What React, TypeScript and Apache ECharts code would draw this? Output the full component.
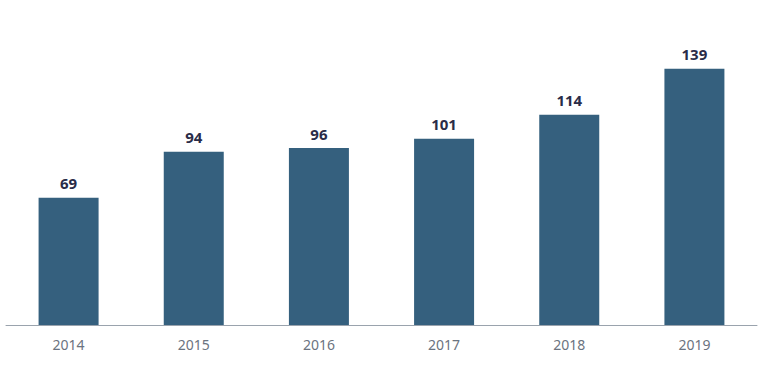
import React, { useEffect, useRef } from "react";
import * as echarts from "echarts";

const categories = ["2014", "2015", "2016", "2017", "2018", "2019"];
const values = [69, 94, 96, 101, 114, 139];

export default function App() {
  const ref = useRef<HTMLDivElement>(null);
  useEffect(() => {
    if (!ref.current) return;
    const chart = echarts.init(ref.current, null, { renderer: "svg" });
    chart.setOption({
      animation: false,
      grid: { left: 6, right: 11, top: 30, bottom: 50, containLabel: false },
      xAxis: {
        type: "category",
        data: categories,
        axisLine: { show: true, lineStyle: { color: "#9aa3ad", width: 1 } },
        axisTick: { show: false },
        axisLabel: { color: "#6b7380", fontSize: 14, fontFamily: "Noto Sans", margin: 12 },
      },
      yAxis: {
        type: "value",
        min: 0,
        max: 160,
        show: false,
        splitLine: { show: false },
      },
      series: [
        {
          type: "bar",
          data: values,
          barWidth: 60,
          itemStyle: { color: "#35607e" },
          label: {
            show: true,
            position: "top",
            distance: 7,
            color: "#2a2c48",
            fontSize: 15,
            fontWeight: "bold",
            fontFamily: "Noto Sans",
          },
        },
      ],
    });
    return () => chart.dispose();
  }, []);
  return <div ref={ref} style={{ width: 768, height: 375, position: "absolute", left: 0, top: 0 }} />;
}
